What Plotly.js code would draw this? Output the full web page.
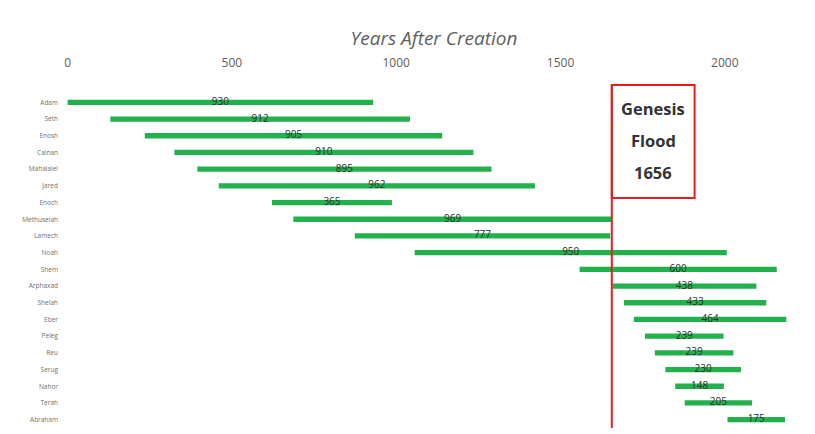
<!DOCTYPE html>
<html>
<head>
<meta charset="utf-8">
<script src="https://cdn.plot.ly/plotly-3.0.1.min.js"></script>
<style>html,body{margin:0;padding:0;background:#fff;}#chart{width:815px;height:434px;}</style>
</head>
<body>
<div id="chart"></div>
<script>
const names = ["Adam","Seth","Enosh","Cainan","Mahalalel","Jared","Enoch","Methuselah","Lamech","Noah","Shem","Arphaxad","Shelah","Eber","Peleg","Reu","Serug","Nahor","Terah","Abraham"];
const births = [0,130,235,325,395,460,622,687,874,1056,1558,1658,1693,1723,1757,1787,1819,1849,1878,2008];
const lifespans = [930,912,905,910,895,962,365,969,777,950,600,438,433,464,239,239,230,148,205,175];
const floodYear = 1656;
const floodLines = ["Genesis","Flood","1656"];
const xTicks = [0,500,1000,1500,2000];

const mids = births.map((b,i)=> b + lifespans[i]/2);

const bars = {
  type:'bar', orientation:'h', y:names, x:lifespans, base:births,
  width:0.32, marker:{color:'#22b14c', line:{width:0}}, hoverinfo:'skip', showlegend:false
};
const labels = {
  type:'scatter', mode:'text', y:names, x:mids, text:lifespans.map(String),
  textfont:{family:'Open Sans, sans-serif', size:10, color:'#26352a'}, textposition:'middle center',
  hoverinfo:'skip', showlegend:false, cliponaxis:false
};

const T = 94, B = 6, H = 434;
const PH = H - T - B;
const py = px => (H - B - px) / PH;   // pixel y -> paper y

const annotations = floodLines.map((s,i)=>({
  xref:'x', yref:'paper', x:floodYear+126, y:py(108 + 32*i), xanchor:'center', yanchor:'middle', showarrow:false,
  text:'<b>'+s+'</b>', font:{family:'Open Sans, sans-serif', size:16.5, color:'#333'}
}));

const layout = {
  width:815, height:434,
  margin:{l:61, r:8, t:T, b:B, autoexpand:false},
  paper_bgcolor:'#fff', plot_bgcolor:'#fff',
  title:{text:'<i>Years After Creation</i>', x:0.5, xanchor:'center', xref:'paper', y:1-38/H, yanchor:'middle', yref:'container',
    font:{family:'Open Sans, sans-serif', size:19, color:'#606060'}},
  xaxis:{side:'top', range:[-20,2250], tickvals:xTicks, ticktext:xTicks.map(String), showgrid:false, zeroline:false, showline:false,
    ticks:'', ticklabelstandoff:24, tickfont:{family:'Open Sans, sans-serif', size:12, color:'#606060'}, fixedrange:true},
  yaxis:{type:'category', range:[19.5,-0.5], autorange:false, showgrid:false, zeroline:false, showline:false, ticks:'',
    tickfont:{family:'Open Sans, sans-serif', size:6.5, color:'#707070'}, ticklabelstandoff:2},
  shapes:[
    {type:'line', xref:'x', yref:'paper', x0:floodYear, x1:floodYear, y0:0, y1:py(85), line:{color:'#e0201c', width:2}},
    {type:'rect', xref:'x', yref:'paper', x0:floodYear, x1:floodYear+252, y0:py(198), y1:py(85), line:{color:'#e0201c', width:2}, fillcolor:'rgba(255,255,255,0)'}
  ],
  annotations:annotations
};
Plotly.newPlot('chart',[bars,labels],layout,{displayModeBar:false, staticPlot:true});
</script>
</body>
</html>
